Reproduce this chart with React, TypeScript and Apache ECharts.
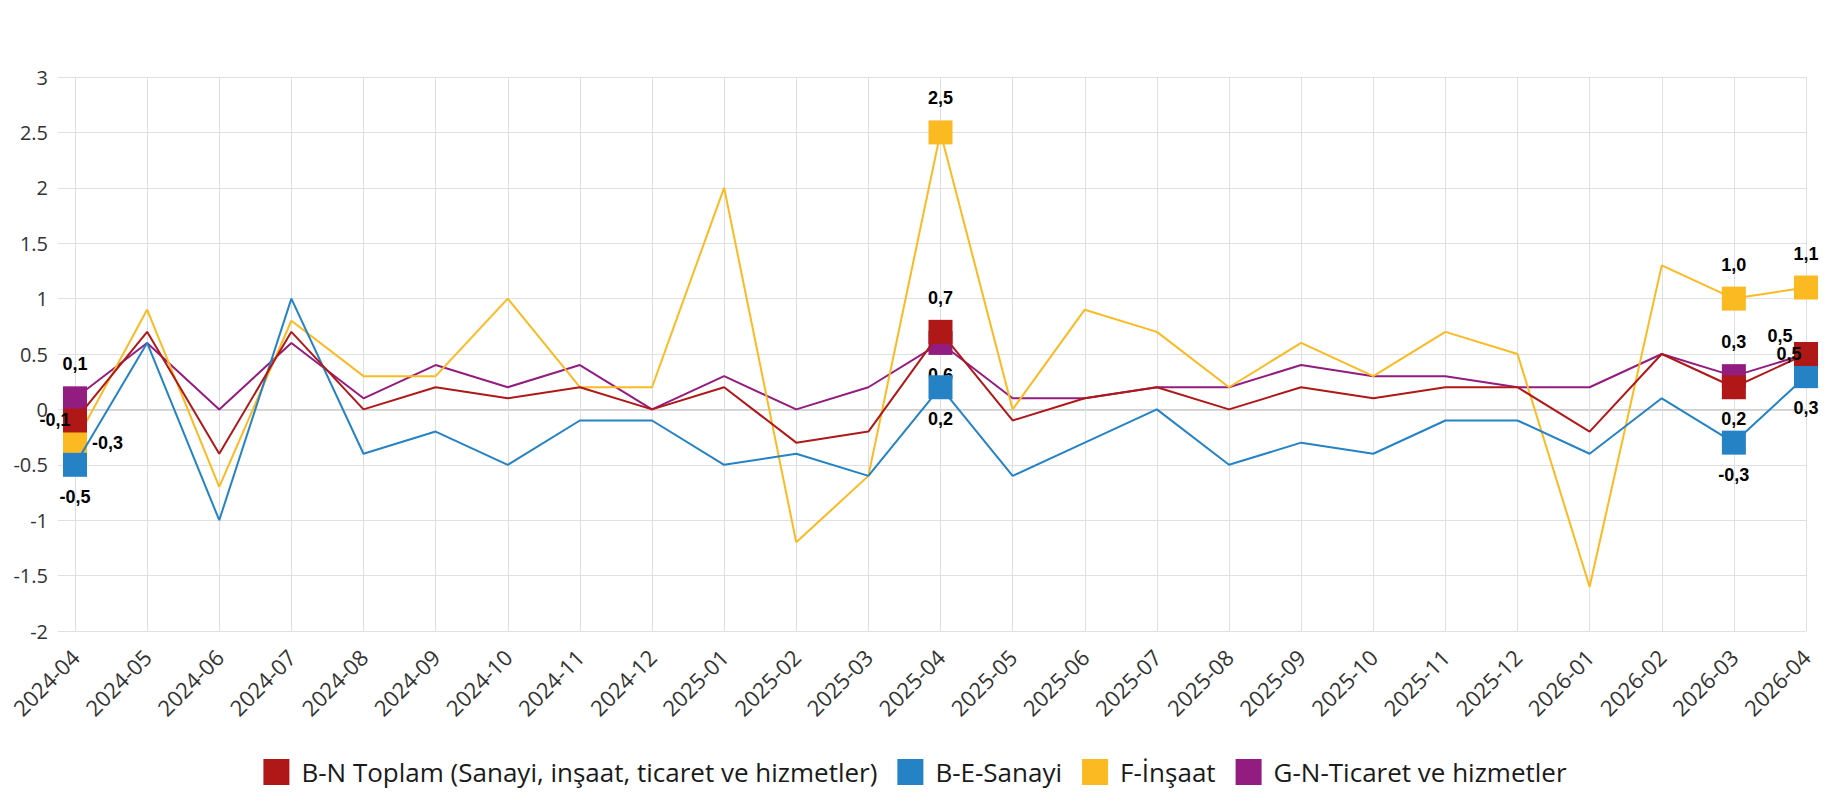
import { useEffect, useRef } from 'react';
import * as echarts from 'echarts';

// Monthly change (%) by economic activity
const categories = [
  '2024-04', '2024-05', '2024-06', '2024-07', '2024-08', '2024-09', '2024-10',
  '2024-11', '2024-12', '2025-01', '2025-02', '2025-03', '2025-04', '2025-05',
  '2025-06', '2025-07', '2025-08', '2025-09', '2025-10', '2025-11', '2025-12',
  '2026-01', '2026-02', '2026-03', '2026-04',
];

const seriesNames = [
  'B-N Toplam (Sanayi, inşaat, ticaret ve hizmetler)',
  'B-E-Sanayi',
  'F-İnşaat',
  'G-N-Ticaret ve hizmetler',
];

const bnTotal = [-0.1, 0.7, -0.4, 0.7, 0.0, 0.2, 0.1, 0.2, 0.0, 0.2, -0.3, -0.2, 0.7, -0.1, 0.1, 0.2, 0.0, 0.2, 0.1, 0.2, 0.2, -0.2, 0.5, 0.2, 0.5];
const beIndustry = [-0.5, 0.6, -1.0, 1.0, -0.4, -0.2, -0.5, -0.1, -0.1, -0.5, -0.4, -0.6, 0.2, -0.6, -0.3, 0.0, -0.5, -0.3, -0.4, -0.1, -0.1, -0.4, 0.1, -0.3, 0.3];
const fConstruction = [-0.3, 0.9, -0.7, 0.8, 0.3, 0.3, 1.0, 0.2, 0.2, 2.0, -1.2, -0.6, 2.5, 0.0, 0.9, 0.7, 0.2, 0.6, 0.3, 0.7, 0.5, -1.6, 1.3, 1.0, 1.1];
const gnTrade = [0.1, 0.6, 0.0, 0.6, 0.1, 0.4, 0.2, 0.4, 0.0, 0.3, 0.0, 0.2, 0.6, 0.1, 0.1, 0.2, 0.2, 0.4, 0.3, 0.3, 0.2, 0.2, 0.5, 0.3, 0.5];

const yTicks = { min: -2, max: 3, interval: 0.5 };

const COLORS = ['#B01818', '#2582C5', '#FBBA22', '#931C80'];

const TOP = { position: 'top', distance: 13 };
const BOTTOM = { position: 'bottom', distance: 11 };
const LEFT = { position: 'left', distance: -7.5 };
const RIGHT = { position: 'right', distance: 5 };

// label placement for the highlighted months (first, one year before, last two)
const labelPlacement: Record<string, Record<number, any>> = {
  bn: { 0: LEFT, 12: TOP, 23: BOTTOM, 24: LEFT },
  be: { 0: BOTTOM, 12: BOTTOM, 23: BOTTOM, 24: BOTTOM },
  f: { 0: RIGHT, 12: TOP, 23: TOP, 24: TOP },
  gn: { 0: TOP, 12: BOTTOM, 23: TOP, 24: { ...LEFT, offset: [-9, -18] } },
};

const fmt = (v: number) => v.toFixed(1).replace('.', ',');

function lineSeries(name: string, values: number[], color: string, z: number, placement: Record<number, any>) {
  return {
    name,
    type: 'line',
    z,
    symbol: 'none',
    showSymbol: true,
    showAllSymbol: true,
    lineStyle: { color, width: 2 },
    itemStyle: { color },
    emphasis: { disabled: true },
    label: {
      show: false,
      formatter: (p: any) => fmt(p.value),
      fontFamily: 'Liberation Sans, Arial, sans-serif',
      fontWeight: 'bold',
      fontSize: 18,
      color: '#000',
    },
    data: values.map((v, i) => {
      const lab = placement[i];
      if (!lab) return v;
      return { value: v, symbol: 'rect', symbolSize: 24, label: { show: true, ...lab } };
    }),
  };
}

export default function App() {
  const ref = useRef<HTMLDivElement>(null);

  useEffect(() => {
    if (!ref.current) return;
    const chart = echarts.init(ref.current, undefined, { renderer: 'svg' });
    const gridV = '#dcdfe5';
    const gridH = '#e0e0e0';
    chart.setOption({
      animation: false,
      backgroundColor: '#ffffff',
      grid: { left: 75, right: 24, top: 77, bottom: 169, containLabel: false },
      legend: {
        data: seriesNames,
        top: 754,
        left: 'center',
        icon: 'rect',
        itemWidth: 26,
        itemHeight: 26,
        itemGap: 20,
        textStyle: {
          fontFamily: 'Open Sans, sans-serif',
          fontSize: 26,
          color: '#1a1a1a',
          padding: [0, 0, 0, 7],
        },
      },
      xAxis: {
        type: 'category',
        data: categories,
        boundaryGap: false,
        axisLine: { show: true, lineStyle: { color: '#cccccc', width: 1.5 } },
        axisTick: { show: true, length: 15, alignWithLabel: true, lineStyle: { color: gridV } },
        axisLabel: {
          interval: 0,
          rotate: 45,
          margin: 22,
          fontFamily: 'Open Sans, sans-serif',
          fontSize: 22,
          color: '#333',
        },
        splitLine: { show: true, lineStyle: { color: gridV, width: 1 } },
      },
      yAxis: {
        type: 'value',
        min: yTicks.min,
        max: yTicks.max,
        interval: yTicks.interval,
        axisLine: { show: false },
        axisTick: { show: true, length: 17, lineStyle: { color: gridH } },
        axisLabel: {
          margin: 27,
          fontFamily: 'Open Sans, sans-serif',
          fontSize: 20,
          color: '#333',
        },
        splitLine: { show: true, lineStyle: { color: gridH, width: 1 } },
      },
      series: [
        lineSeries(seriesNames[0], bnTotal, COLORS[0], 6, labelPlacement.bn),
        lineSeries(seriesNames[1], beIndustry, COLORS[1], 5, labelPlacement.be),
        lineSeries(seriesNames[2], fConstruction, COLORS[2], 4, labelPlacement.f),
        lineSeries(seriesNames[3], gnTrade, COLORS[3], 3, labelPlacement.gn),
      ],
    });
    return () => chart.dispose();
  }, []);

  return (
    <div
      ref={ref}
      style={{ position: 'fixed', left: 0, top: 0, width: 1830, height: 800, background: '#fff' }}
    />
  );
}
